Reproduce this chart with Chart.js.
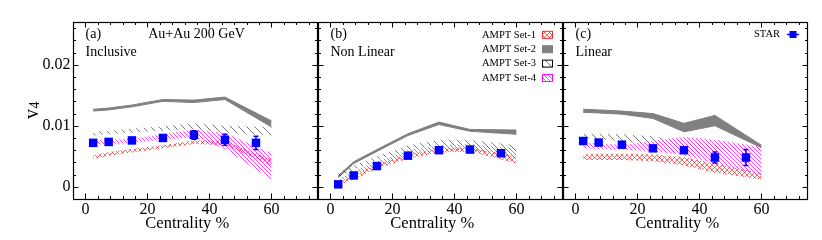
<!DOCTYPE html>
<html>
<head>
<meta charset="utf-8">
<script src="https://cdn.jsdelivr.net/npm/chart.js@4.4.0/dist/chart.umd.min.js"></script>
<style>
  html, body { margin: 0; padding: 0; background: #fff; }
  #wrap { position: relative; width: 822px; height: 240px; overflow: hidden; background: #fff; }
  canvas { position: absolute; top: 0; }
</style>
</head>
<body>
<div id="wrap">
  <canvas id="chartA" width="320" height="240" style="left:0px"></canvas>
  <canvas id="chartB" width="248" height="240" style="left:317px"></canvas>
  <canvas id="chartC" width="260" height="240" style="left:562px"></canvas>
</div>
<script>
// centrality bins
var starCentrality = [2.5, 7.5, 15, 25, 35, 45, 55];
var amptCentrality = [2.5, 7.5, 15, 25, 35, 45, 60];
var xTickLabels = [0, 20, 40, 60];
var yTickLabels = [0, 0.01, 0.02];
var yTickText = ['0', '0.01', '0.02'];

// (a) Inclusive
var starInc = [0.0072, 0.00735, 0.0076, 0.0080, 0.0085, 0.0077, 0.0072];
var starIncErr = [0.0005, 0.0004, 0.0004, 0.0005, 0.0007, 0.0009, 0.0011];
var set1IncLo = [0.0045, 0.0051, 0.0056, 0.0063, 0.0070, 0.0068, 0.0035];
var set1IncHi = [0.0051, 0.0057, 0.0062, 0.0068, 0.0076, 0.0075, 0.0045];
var set2IncLo = [0.0124, 0.0126, 0.0131, 0.0140, 0.0138, 0.0143, 0.0098];
var set2IncHi = [0.0127, 0.0129, 0.0134, 0.0143, 0.0142, 0.0147, 0.0108];
var set3IncLo = [0.0084, 0.0086, 0.0089, 0.0092, 0.0095, 0.0088, 0.0085];
var set3IncHi = [0.0090, 0.0092, 0.0095, 0.0099, 0.0104, 0.0100, 0.0098];
var set4IncLo = [0.0069, 0.0070, 0.0072, 0.0077, 0.0081, 0.0062, 0.0011];
var set4IncHi = [0.0076, 0.0077, 0.0079, 0.0086, 0.0094, 0.0088, 0.0055];

// (b) Non Linear
var starNL = [0.0004, 0.00186, 0.0034, 0.0051, 0.0060, 0.0061, 0.0055];
var starNLErr = [0.0003, 0.0002, 0.0002, 0.0002, 0.0003, 0.0003, 0.0003];
var set1NLLo = [0.0003, 0.0012, 0.0030, 0.0046, 0.0056, 0.0058, 0.0038];
var set1NLHi = [0.0008, 0.0018, 0.0036, 0.0053, 0.0062, 0.0064, 0.0050];
var set2NLLo = [0.0015, 0.0038, 0.0058, 0.0084, 0.0102, 0.0091, 0.0086];
var set2NLHi = [0.0018, 0.0041, 0.0061, 0.0087, 0.0106, 0.0094, 0.0093];
var set3NLLo = [0.0015, 0.0028, 0.0043, 0.0060, 0.0069, 0.0068, 0.0055];
var set3NLHi = [0.0022, 0.0035, 0.0050, 0.0068, 0.0077, 0.0077, 0.0068];
var set4NLLo = [0.0006, 0.0018, 0.0034, 0.0051, 0.0060, 0.0060, 0.0048];
var set4NLHi = [0.0012, 0.0025, 0.0042, 0.0060, 0.0068, 0.0070, 0.0063];

// (c) Linear
var starLin = [0.0075, 0.00725, 0.0069, 0.0063, 0.0060, 0.0048, 0.0048];
var starLinErr = [0.0005, 0.0004, 0.0004, 0.0004, 0.0005, 0.0009, 0.0013];
var set1LinLo = [0.0044, 0.0044, 0.0044, 0.0042, 0.0035, 0.0023, 0.0012];
var set1LinHi = [0.0053, 0.0054, 0.0054, 0.0053, 0.0049, 0.0038, 0.0022];
var set2LinLo = [0.0122, 0.0121, 0.0119, 0.0112, 0.0090, 0.0100, 0.0064];
var set2LinHi = [0.0127, 0.0126, 0.0124, 0.0120, 0.0104, 0.0117, 0.0068];
var set3LinLo = [0.0080, 0.0078, 0.0075, 0.0068, 0.0050, 0.0058, 0.0060];
var set3LinHi = [0.0087, 0.0087, 0.0086, 0.0083, 0.0075, 0.0068, 0.0066];
var set4LinLo = [0.0063, 0.0062, 0.0061, 0.0058, 0.0052, 0.0038, 0.0019];
var set4LinHi = [0.0073, 0.0071, 0.0069, 0.0075, 0.0082, 0.0077, 0.0065];

var amptLabels = ['AMPT Set-1', 'AMPT Set-2', 'AMPT Set-3', 'AMPT Set-4'];

var serif = "'Liberation Serif', 'Times New Roman', serif";
Chart.defaults.font.family = serif;
Chart.defaults.color = '#000';

function makeHatch(color, size, width, cross) {
  var c = document.createElement('canvas');
  c.width = size; c.height = size;
  var g = c.getContext('2d');
  g.strokeStyle = color;
  g.lineWidth = width;
  g.beginPath();
  for (var k = -size; k <= size; k += size) {
    g.moveTo(k, 0); g.lineTo(k + size, size);
    if (cross) { g.moveTo(k, size); g.lineTo(k + size, 0); }
  }
  g.stroke();
  return g.createPattern(c, 'repeat');
}

var fill1 = makeHatch('rgba(255,30,30,0.85)', 5, 0.8, true);
var fill2 = 'rgb(128,128,128)';
var fill3 = makeHatch('rgba(40,40,40,0.9)', 8, 0.7, false);
var fill4 = makeHatch('rgba(255,0,255,0.9)', 4, 0.8, false);
var legendFills = [fill1, fill2, fill3, fill4];
var legendBorders = ['#ff2828', 'rgb(128,128,128)', '#000', '#ff00ff'];

function pts(xs, ys) {
  return xs.map(function (x, i) { return { x: x, y: ys[i] }; });
}

function band(lo, hi, color, label, solid) {
  return [
    { label: label + ' lo', data: pts(amptCentrality, lo), pointRadius: 0,
      borderWidth: solid ? 1 : 0, borderColor: color, fill: false },
    { label: label, data: pts(amptCentrality, hi), pointRadius: 0,
      borderWidth: solid ? 1 : 0, borderColor: color, backgroundColor: color, fill: '-1' }
  ];
}

function buildDatasets(star, s1lo, s1hi, s2lo, s2hi, s3lo, s3hi, s4lo, s4hi) {
  // first dataset ends up on top
  return [{
    label: 'STAR',
    data: pts(starCentrality, star),
    showLine: false,
    pointStyle: 'rect',
    pointRadius: 6,
    pointBackgroundColor: '#0000ff',
    pointBorderColor: '#0000ff',
    pointBorderWidth: 0
  }].concat(
    band(s4lo, s4hi, fill4, 'AMPT Set-4'),
    band(s1lo, s1hi, fill1, 'AMPT Set-1'),
    band(s3lo, s3hi, fill3, 'AMPT Set-3'),
    band(s2lo, s2hi, fill2, 'AMPT Set-2', true)
  );
}

function makeDecor(cfg) {
  return {
    id: 'decor',
    afterDatasetsDraw: function (chart) {
      var ctx = chart.ctx, xs = chart.scales.x, ys = chart.scales.y;
      ctx.save();
      ctx.strokeStyle = '#0000ff';
      ctx.lineWidth = 1.5;
      cfg.star.forEach(function (v, i) {
        var px = xs.getPixelForValue(starCentrality[i]);
        var top = ys.getPixelForValue(v + cfg.err[i]);
        var bot = ys.getPixelForValue(v - cfg.err[i]);
        ctx.beginPath();
        ctx.moveTo(px, top); ctx.lineTo(px, bot);
        ctx.moveTo(px - 2.5, top); ctx.lineTo(px + 2.5, top);
        ctx.moveTo(px - 2.5, bot); ctx.lineTo(px + 2.5, bot);
        ctx.stroke();
      });
      ctx.restore();
    },
    afterDraw: function (chart) {
      var ctx = chart.ctx, a = chart.chartArea, xs = chart.scales.x, ys = chart.scales.y;
      ctx.save();
      // frame
      ctx.strokeStyle = '#000';
      ctx.lineWidth = 1.2;
      ctx.strokeRect(a.left + 0.5, a.top + 0.5, a.right - a.left - 1, a.bottom - a.top);
      // inward ticks
      ctx.lineWidth = 1;
      ctx.beginPath();
      var v, p, len;
      for (v = -4; v <= 76; v += 4) {
        p = Math.round(xs.getPixelForValue(v)) + 0.5;
        if (p <= a.left + 1 || p >= a.right - 1) continue;
        len = (v % 20 === 0) ? 5.5 : 3;
        ctx.moveTo(p, a.bottom); ctx.lineTo(p, a.bottom - len);
        ctx.moveTo(p, a.top); ctx.lineTo(p, a.top + len);
      }
      for (var k = -1; k <= 14; k++) {
        p = Math.round(ys.getPixelForValue(k * 0.002)) + 0.5;
        if (p <= a.top + 1 || p >= a.bottom - 1) continue;
        len = (k % 5 === 0) ? 5.5 : 3;
        ctx.moveTo(a.left, p); ctx.lineTo(a.left + len, p);
        ctx.moveTo(a.right, p); ctx.lineTo(a.right - len, p);
      }
      ctx.stroke();

      // panel labels
      ctx.fillStyle = '#000';
      ctx.font = '14px ' + serif;
      ctx.textBaseline = 'middle';
      ctx.textAlign = 'left';
      ctx.fillText(cfg.tag, a.left + 12.5, a.top + 12.5);
      ctx.fillText(cfg.name, a.left + 12.5, a.top + 30.5);
      if (cfg.system) {
        ctx.textAlign = 'center';
        ctx.fillText(cfg.system, a.left + 123.5, a.top + 12.5);
      }

      // y-axis title
      if (cfg.yTitle) {
        ctx.save();
        ctx.translate(38, 119);
        ctx.rotate(-Math.PI / 2);
        ctx.textAlign = 'left';
        ctx.textBaseline = 'alphabetic';
        ctx.font = '20px ' + serif;
        ctx.fillText('v', 0, 0);
        var w = ctx.measureText('v').width;
        ctx.font = '14px ' + serif;
        ctx.fillText('4', w + 0.5, 1);
        ctx.restore();
      }

      // AMPT legend
      if (cfg.amptLegend) {
        ctx.font = '10.5px ' + serif;
        ctx.textAlign = 'right';
        ctx.textBaseline = 'middle';
        amptLabels.forEach(function (lab, i) {
          var y = a.top + 12.8 + i * 14.4;
          ctx.fillStyle = '#000';
          ctx.fillText(lab, a.right - 27, y);
          ctx.fillStyle = legendFills[i];
          ctx.fillRect(a.right - 20.5, y - 3.5, 10, 7);
          ctx.strokeStyle = legendBorders[i];
          ctx.lineWidth = 1;
          ctx.strokeRect(a.right - 20.5, y - 3.5, 10, 7);
        });
      }

      // STAR legend
      if (cfg.starLegend) {
        var yy = a.top + 12.5, cx = a.right - 15;
        ctx.font = '10.5px ' + serif;
        ctx.textAlign = 'right';
        ctx.textBaseline = 'middle';
        ctx.fillStyle = '#000';
        ctx.fillText('STAR', a.right - 28, yy);
        ctx.fillStyle = '#0000ff';
        ctx.strokeStyle = '#0000ff';
        ctx.lineWidth = 1.5;
        ctx.beginPath();
        ctx.moveTo(cx - 6, yy); ctx.lineTo(cx + 6, yy);
        ctx.stroke();
        ctx.fillRect(cx - 3.5, yy - 3.5, 7, 7);
      }
      ctx.restore();
    }
  };
}

function makeChart(id, datasets, decor, showY, padding) {
  return new Chart(document.getElementById(id), {
    type: 'line',
    data: { datasets: datasets },
    options: {
      responsive: false,
      animation: false,
      devicePixelRatio: 1,
      layout: { padding: padding, autoPadding: false },
      plugins: { legend: { display: false }, tooltip: { enabled: false } },
      elements: { line: { tension: 0 } },
      scales: {
        x: {
          type: 'linear',
          min: -4,
          max: 75,
          grid: { display: false, drawTicks: false },
          border: { display: false },
          ticks: {
            font: { size: 16, family: serif },
            color: '#000',
            padding: 1,
            maxRotation: 0,
            callback: function (v) { return String(v); }
          },
          afterBuildTicks: function (s) {
            s.ticks = xTickLabels.map(function (v) { return { value: v }; });
          },
          title: {
            display: true,
            text: 'Centrality %    ',
            font: { size: 16.5, family: serif },
            color: '#000',
            padding: { top: 0, bottom: 6 }
          },
          afterFit: function (s) {
            s.height = 41;
            s.paddingLeft = 0;
            s.paddingRight = 0;
          }
        },
        y: {
          display: showY,
          min: -0.002,
          max: 0.027,
          grid: { display: false, drawTicks: false },
          border: { display: false },
          ticks: {
            font: { size: 16, family: serif },
            color: '#000',
            padding: 2.5,
            callback: function (v) {
              var i = yTickLabels.indexOf(v);
              return i >= 0 ? yTickText[i] : '';
            }
          },
          afterBuildTicks: function (s) {
            s.ticks = yTickLabels.map(function (v) { return { value: v }; });
          },
          afterFit: function (s) {
            s.width = showY ? 73 : 0;
            s.paddingTop = 0;
            s.paddingBottom = 0;
          }
        }
      }
    },
    plugins: [decor]
  });
}

makeChart('chartA',
  buildDatasets(starInc, set1IncLo, set1IncHi, set2IncLo, set2IncHi, set3IncLo, set3IncHi, set4IncLo, set4IncHi),
  makeDecor({ tag: '(a)', name: 'Inclusive', system: 'Au+Au 200 GeV', yTitle: true, star: starInc, err: starIncErr }),
  true, { top: 22, right: 2, left: 0, bottom: 0 });

makeChart('chartB',
  buildDatasets(starNL, set1NLLo, set1NLHi, set2NLLo, set2NLHi, set3NLLo, set3NLHi, set4NLLo, set4NLHi),
  makeDecor({ tag: '(b)', name: 'Non Linear', amptLegend: true, star: starNL, err: starNLErr }),
  false, { top: 22, right: 2, left: 1, bottom: 0 });

makeChart('chartC',
  buildDatasets(starLin, set1LinLo, set1LinHi, set2LinLo, set2LinHi, set3LinLo, set3LinHi, set4LinLo, set4LinHi),
  makeDecor({ tag: '(c)', name: 'Linear', starLegend: true, star: starLin, err: starLinErr }),
  false, { top: 22, right: 14, left: 1, bottom: 0 });
</script>
</body>
</html>
